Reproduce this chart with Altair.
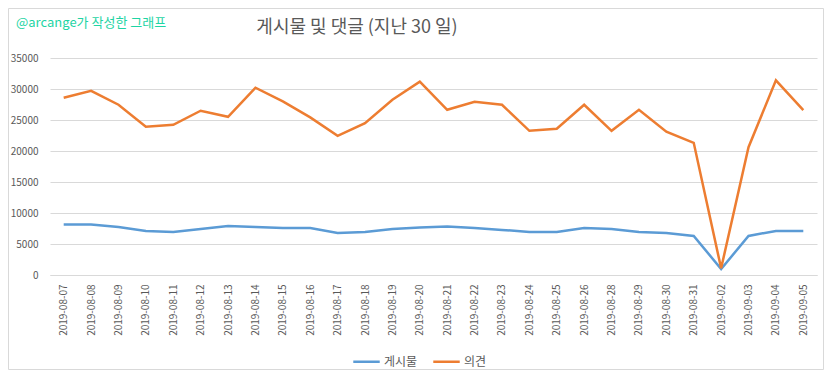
import altair as alt
import pandas as pd

dates = ["2019-08-07", "2019-08-08", "2019-08-09", "2019-08-10", "2019-08-11", "2019-08-12",
         "2019-08-13", "2019-08-14", "2019-08-15", "2019-08-16", "2019-08-17", "2019-08-18",
         "2019-08-19", "2019-08-20", "2019-08-21", "2019-08-22", "2019-08-23", "2019-08-24",
         "2019-08-25", "2019-08-26", "2019-08-28", "2019-08-29", "2019-08-30", "2019-08-31",
         "2019-09-02", "2019-09-03", "2019-09-04", "2019-09-05"]
posts = [8130, 8130, 7750, 7110, 6950, 7430, 7920, 7750, 7590, 7590, 6790, 6950,
         7430, 7650, 7810, 7590, 7270, 6950, 6950, 7590, 7430, 6950, 6790, 6300,
         970, 6300, 7110, 7110]
comments = [28600, 29700, 27460, 23910, 24230, 26490, 25520, 30210, 28000, 25420, 22450, 24500,
            28270, 31180, 26650, 27950, 27460, 23260, 23590, 27460, 23260, 26650, 23100, 21320,
            1080, 20620, 31390, 26600]
series = ["게시물", "의견"]
colors = ["#5b9bd5", "#ed7d31"]

rows = []
for i, d in enumerate(dates):
    rows.append({"date": d, "series": series[0], "value": posts[i], "ord": 0})
    rows.append({"date": d, "series": series[1], "value": comments[i], "ord": 1})
df = pd.DataFrame(rows)

W, H = 767, 217
PL, PT, PR, PB = 42, 50, 7, 95
GRAY = "#595959"
FONT = "Noto Sans CJK KR"

lines = alt.Chart(df).mark_line(strokeWidth=2.5).encode(
    x=alt.X("date:N", sort=dates, title=None,
            scale=alt.Scale(type="point", padding=0.5),
            axis=alt.Axis(labelAngle=-90, labelFontSize=10, labelColor=GRAY, labelFont=FONT,
                          ticks=False, domainColor="#d9d9d9", labelPadding=9, grid=False)),
    y=alt.Y("value:Q", title=None,
            scale=alt.Scale(domain=[0, 35000], nice=False),
            axis=alt.Axis(values=[0, 5000, 10000, 15000, 20000, 25000, 30000, 35000],
                          format="d", labelFontSize=10, labelColor=GRAY, labelFont=FONT,
                          ticks=False, domain=False, gridColor="#d9d9d9", labelPadding=12)),
    color=alt.Color("series:N", sort=series,
                    scale=alt.Scale(domain=series, range=colors),
                    legend=alt.Legend(title=None, orient="none", legendX=302, legendY=289,
                                      direction="horizontal", symbolType="stroke",
                                      symbolSize=700, symbolStrokeWidth=2.5,
                                      labelFontSize=12, labelColor=GRAY, labelFont=FONT,
                                      labelOffset=3, columnPadding=10, symbolOffset=0)),
    order="ord:Q",
)

title = alt.Chart(pd.DataFrame({"t": ["게시물 및 댓글 (지난 30 일)"]})).mark_text(
    font=FONT, fontSize=18, color=GRAY, align="center", baseline="middle"
).encode(x=alt.value(307), y=alt.value(-30), text="t:N")

mark = alt.Chart(pd.DataFrame({"t": ["@arcange가 작성한 그래프"]})).mark_text(
    font=FONT, fontSize=13, color="#1ed4a4", align="left", baseline="middle"
).encode(x=alt.value(-34), y=alt.value(-35), text="t:N")

border = alt.Chart(pd.DataFrame({"a": [0]})).mark_rect(
    fill=None, stroke="#d9d9d9", strokeWidth=1
).encode(x=alt.value(-PL + 0.5), x2=alt.value(W + PR - 0.5),
         y=alt.value(-PT + 0.5), y2=alt.value(H + PB - 0.5))

chart = alt.layer(border, lines, title, mark).properties(
    width=W, height=H,
    autosize=alt.AutoSizeParams(type="none"),
    padding={"left": PL, "top": PT, "right": PR, "bottom": PB},
    background="white",
).configure_view(stroke=None)

chart.save("out.html", embed_options={"renderer": "svg", "actions": False})
